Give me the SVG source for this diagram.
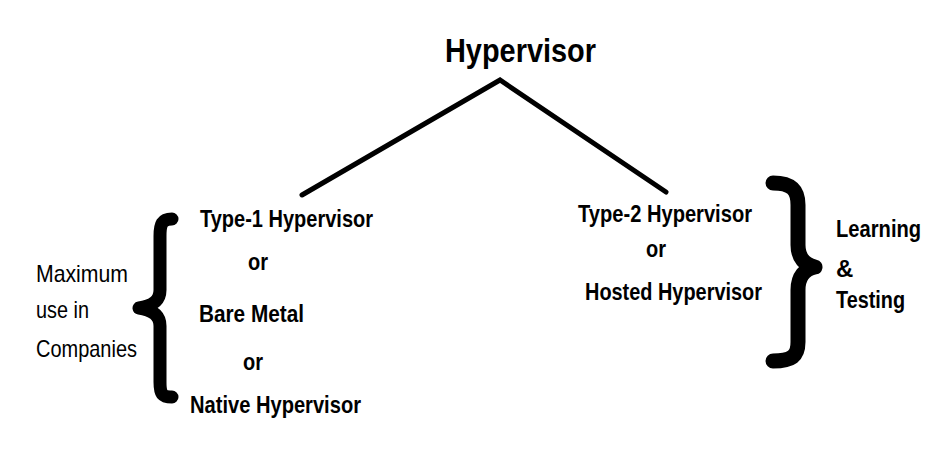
<svg xmlns="http://www.w3.org/2000/svg" width="934" height="473" viewBox="0 0 934 473">
<style>
.b{font-family:"Liberation Sans",Arial,sans-serif;font-weight:bold;fill:#000}
.r{font-family:"Liberation Sans",Arial,sans-serif;fill:#000}
.ln{stroke:#000;stroke-width:5;fill:none;stroke-linecap:round}
.br{stroke:#000;stroke-width:13;fill:none;stroke-linecap:round;stroke-linejoin:round}
</style>
<rect width="934" height="473" fill="#fff"/>
<g id="connectors">
<polyline class="ln" points="302,195 500,80 666,192"/>
</g>
<g id="root">
<text class="b" x="445" y="62" font-size="34" textLength="151" lengthAdjust="spacingAndGlyphs">Hypervisor</text>
</g>
<g id="type1">
<text class="b" x="200" y="227" font-size="24" textLength="173" lengthAdjust="spacingAndGlyphs">Type-1 Hypervisor</text>
<text class="b" x="248" y="270" font-size="24" textLength="20" lengthAdjust="spacingAndGlyphs">or</text>
<text class="b" x="199" y="322" font-size="24" textLength="105" lengthAdjust="spacingAndGlyphs">Bare Metal</text>
<text class="b" x="243" y="370" font-size="24" textLength="20" lengthAdjust="spacingAndGlyphs">or</text>
<text class="b" x="190" y="413" font-size="24" textLength="171" lengthAdjust="spacingAndGlyphs">Native Hypervisor</text>
</g>
<g id="type1-use">
<path class="br" d="M172,219 C162,219 160,224 160,236 L160,290 C160,301 152,306 139,308 C152,310 160,315 160,326 L160,382 C160,394 162,397 172,397"/>
<text class="r" x="36" y="282" font-size="24" textLength="92" lengthAdjust="spacingAndGlyphs">Maximum</text>
<text class="r" x="36" y="318" font-size="24" textLength="53" lengthAdjust="spacingAndGlyphs">use in</text>
<text class="r" x="36" y="357" font-size="24" textLength="101" lengthAdjust="spacingAndGlyphs">Companies</text>
</g>
<g id="type2">
<text class="b" x="578" y="222" font-size="24" textLength="174" lengthAdjust="spacingAndGlyphs">Type-2 Hypervisor</text>
<text class="b" x="646" y="257" font-size="24" textLength="20" lengthAdjust="spacingAndGlyphs">or</text>
<text class="b" x="585" y="300" font-size="24" textLength="177" lengthAdjust="spacingAndGlyphs">Hosted Hypervisor</text>
</g>
<g id="type2-use">
<path class="br" style="stroke-width:15" d="M773,183 C792,183 798,190 798,205 L798,245 C798,258 805,265 815,267 C805,269 798,276 798,290 L798,342 C798,356 792,361 773,361"/>
<text class="b" font-size="24" transform="translate(836,237) scale(0.84,1)">Learning</text>
<text class="b" x="836" y="277" font-size="24">&amp;</text>
<text class="b" x="836" y="308" font-size="24" textLength="69" lengthAdjust="spacingAndGlyphs">Testing</text>
</g>
</svg>
